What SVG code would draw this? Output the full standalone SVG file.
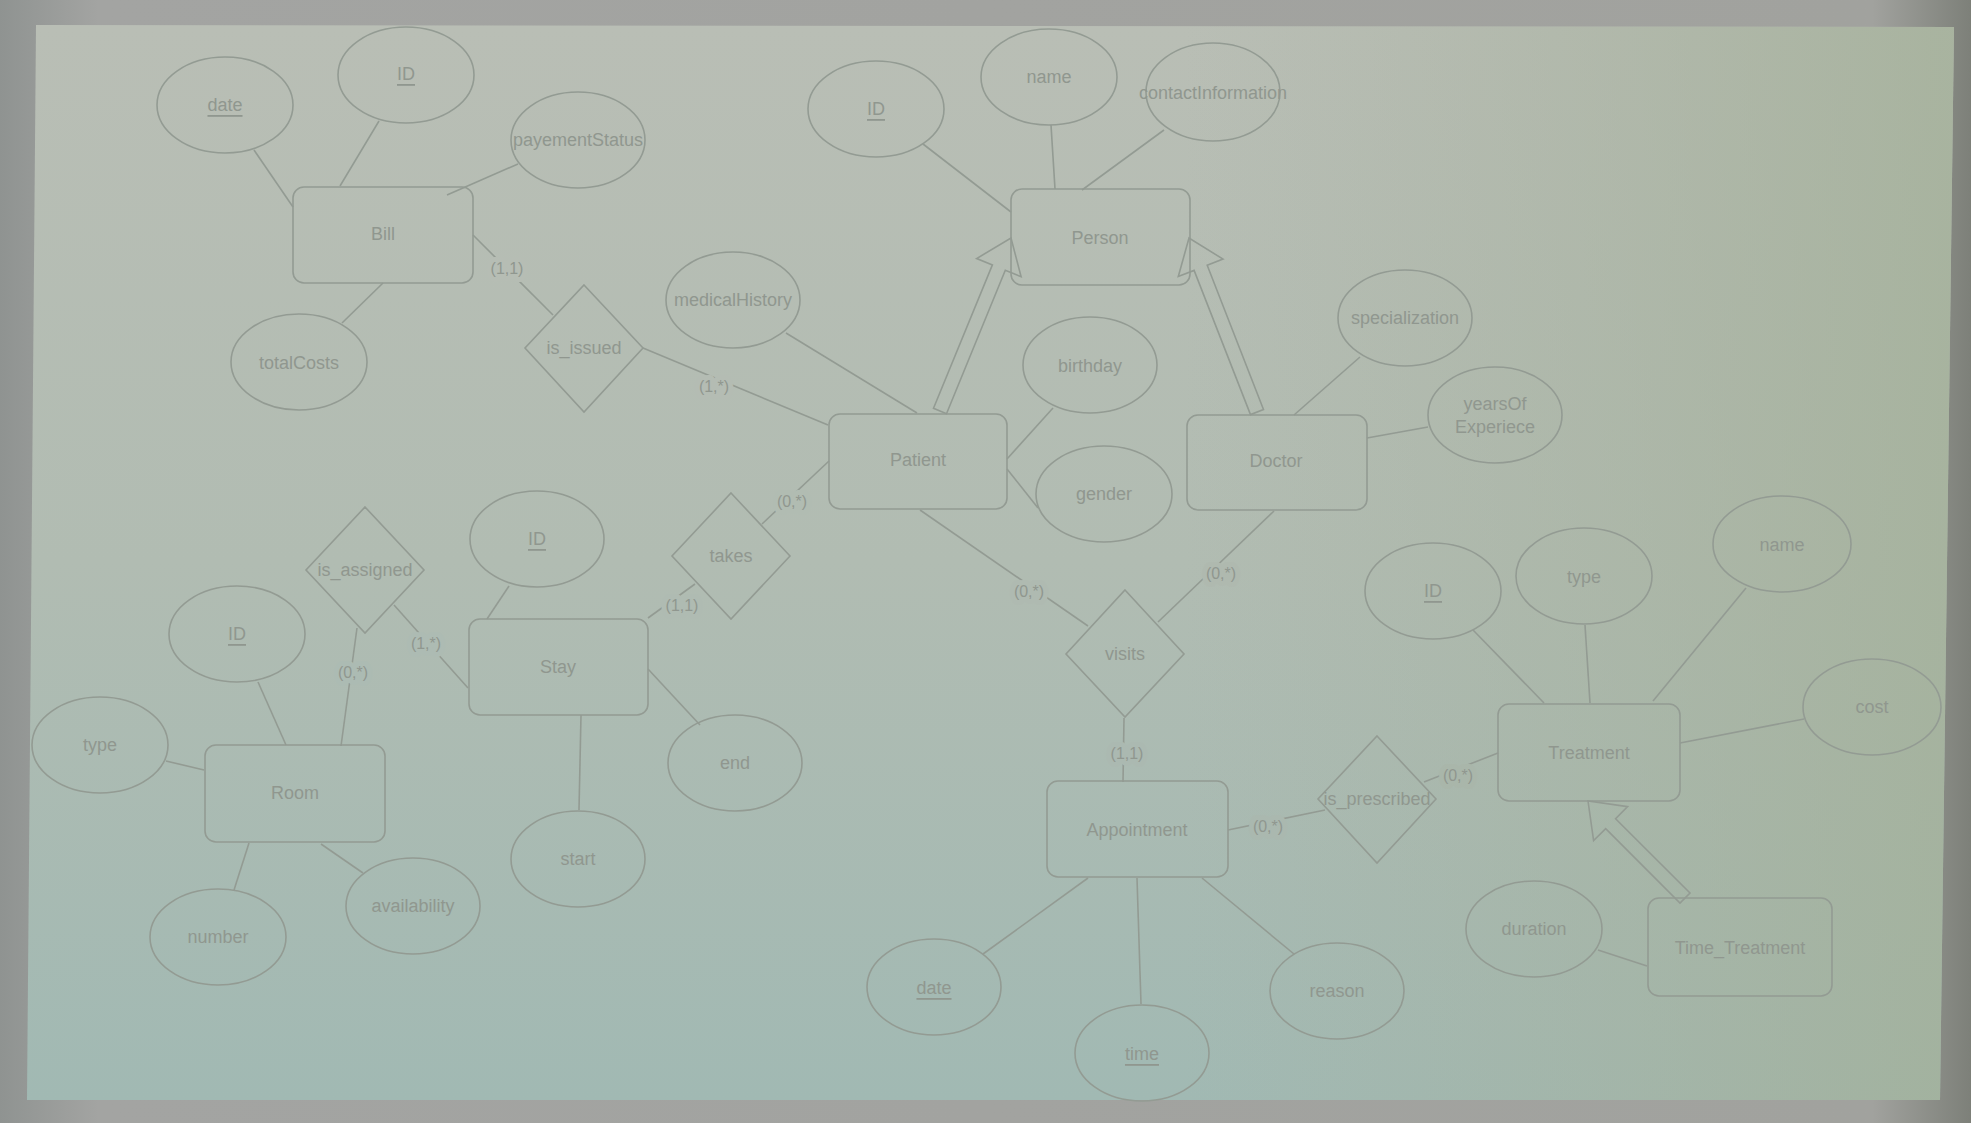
<svg xmlns="http://www.w3.org/2000/svg" width="1971" height="1123" viewBox="0 0 1971 1123">
<defs>
<linearGradient id="frame" x1="0" y1="0" x2="1" y2="0">
<stop offset="0" stop-color="#8f9391"/><stop offset="0.05" stop-color="#a3a4a2"/><stop offset="0.95" stop-color="#a1a29e"/><stop offset="1" stop-color="#7d8079"/>
</linearGradient>
<linearGradient id="scrV" x1="0" y1="0" x2="0" y2="1">
<stop offset="0" stop-color="#b9beb5"/><stop offset="0.5" stop-color="#b1bcb2"/><stop offset="1" stop-color="#a1b9b3"/>
</linearGradient>
<linearGradient id="scrH" x1="0" y1="0" x2="1" y2="0">
<stop offset="0" stop-color="#a8b0a0" stop-opacity="0"/><stop offset="0.6" stop-color="#a8b0a0" stop-opacity="0"/><stop offset="1" stop-color="#a3b098" stop-opacity="0.75"/>
</linearGradient>
<style>
.s{fill:none;stroke:#939b93;stroke-width:1.6}
.l{stroke:#939b93;stroke-width:1.6;fill:none}
.t{font-family:"Liberation Sans",Arial,Helvetica,sans-serif;font-size:18px;fill:#90978f;text-anchor:middle;dominant-baseline:central}
.u{text-decoration:underline}
.c{font-family:"Liberation Sans",Arial,Helvetica,sans-serif;font-size:16px;fill:#90978f;text-anchor:middle;dominant-baseline:central;stroke:#b1bbb2;stroke-width:10;paint-order:stroke;stroke-linejoin:round}
</style>
</defs>
<rect x="0" y="0" width="1971" height="1123" fill="url(#frame)"/>
<polygon points="36,25 1954,27 1940,1100 27,1100" fill="url(#scrV)"/>
<polygon points="36,25 1954,27 1940,1100 27,1100" fill="url(#scrH)"/>

<g id="connectors">
<line class="l" x1="254" y1="150" x2="293" y2="207"/>
<line class="l" x1="379" y1="121" x2="340" y2="186"/>
<line class="l" x1="518" y1="164" x2="447" y2="195"/>
<line class="l" x1="342" y1="323" x2="383" y2="283"/>
<line class="l" x1="473" y1="235" x2="553" y2="315"/>
<line class="l" x1="643" y1="348" x2="828" y2="425"/>
<line class="l" x1="923" y1="144" x2="1011" y2="212"/>
<line class="l" x1="1051" y1="125" x2="1055" y2="189"/>
<line class="l" x1="1164" y1="130" x2="1082" y2="190"/>
<line class="l" x1="786" y1="333" x2="917" y2="413"/>
<line class="l" x1="1053" y1="408" x2="1007" y2="459"/>
<line class="l" x1="1007" y1="469" x2="1038" y2="508"/>
<line class="l" x1="1360" y1="357" x2="1294" y2="415"/>
<line class="l" x1="1428" y1="427" x2="1367" y2="438"/>
<line class="l" x1="920" y1="510" x2="1088" y2="626"/>
<line class="l" x1="1274" y1="511" x2="1158" y2="622"/>
<line class="l" x1="1124" y1="718" x2="1123" y2="782"/>
<line class="l" x1="983" y1="954" x2="1088" y2="878"/>
<line class="l" x1="1141" y1="1004" x2="1137" y2="878"/>
<line class="l" x1="1294" y1="954" x2="1202" y2="878"/>
<line class="l" x1="1228" y1="830" x2="1325" y2="810"/>
<line class="l" x1="1424" y1="782" x2="1498" y2="753"/>
<line class="l" x1="1473" y1="630" x2="1544" y2="703"/>
<line class="l" x1="1585" y1="625" x2="1590" y2="703"/>
<line class="l" x1="1746" y1="588" x2="1653" y2="701"/>
<line class="l" x1="1804" y1="719" x2="1680" y2="743"/>
<line class="l" x1="1598" y1="950" x2="1647" y2="966"/>
<line class="l" x1="509" y1="586" x2="487" y2="619"/>
<line class="l" x1="648" y1="669" x2="700" y2="725"/>
<line class="l" x1="581" y1="715" x2="579" y2="810"/>
<line class="l" x1="648" y1="618" x2="695" y2="584"/>
<line class="l" x1="762" y1="524" x2="829" y2="461"/>
<line class="l" x1="394" y1="605" x2="468" y2="688"/>
<line class="l" x1="357" y1="628" x2="341" y2="746"/>
<line class="l" x1="258" y1="682" x2="286" y2="745"/>
<line class="l" x1="166" y1="761" x2="204" y2="770"/>
<line class="l" x1="234" y1="890" x2="249" y2="843"/>
<line class="l" x1="363" y1="873" x2="321" y2="844"/>
<polygon class="s" points="946.5,413.7 1005.3,270.3 1021.1,276.7 1011,238 976.7,258.5 992.4,264.9 933.5,408.3"/>
<polygon class="s" points="1263.5,409.5 1207.2,265.3 1223,259.1 1189,238 1178.3,276.5 1194.1,270.4 1250.5,414.6"/>
<polygon class="s" points="1690,893 1615.6,818.7 1627.6,806.6 1588,801 1593.6,840.6 1605.7,828.6 1680,903"/>
<text class="c" x="507" y="268" style="stroke:#b6bdb4">(1,1)</text>
<text class="c" x="714" y="386" style="stroke:#b4bcb3">(1,*)</text>
<text class="c" x="792" y="501" style="stroke:#b1bcb2">(0,*)</text>
<text class="c" x="682" y="605" style="stroke:#afbbb2">(1,1)</text>
<text class="c" x="426" y="643" style="stroke:#adbbb3">(1,*)</text>
<text class="c" x="353" y="672" style="stroke:#acbbb3">(0,*)</text>
<text class="c" x="1029" y="591" style="stroke:#afbab1">(0,*)</text>
<text class="c" x="1221" y="573" style="stroke:#afb9af">(0,*)</text>
<text class="c" x="1127" y="753" style="stroke:#abb9b1">(1,1)</text>
<text class="c" x="1268" y="826" style="stroke:#aab8af">(0,*)</text>
<text class="c" x="1458" y="775" style="stroke:#a9b6aa">(0,*)</text>
</g>

<g id="Bill"><rect class="s" x="293" y="187" width="180" height="96" rx="11"/><text class="t" x="383" y="234">Bill</text></g>
<g id="Bill_date"><ellipse class="s" cx="225" cy="105" rx="68" ry="48"/><text class="t u" x="225" y="105">date</text></g>
<g id="Bill_ID"><ellipse class="s" cx="406" cy="75" rx="68" ry="48"/><text class="t u" x="406" y="74">ID</text></g>
<g id="Bill_payementStatus"><ellipse class="s" cx="578" cy="140" rx="67" ry="48"/><text class="t" x="578" y="140">payementStatus</text></g>
<g id="Bill_totalCosts"><ellipse class="s" cx="299" cy="362" rx="68" ry="48"/><text class="t" x="299" y="363">totalCosts</text></g>
<g id="is_issued"><polygon class="s" points="584,285 643,348 584,412 525,348"/><text class="t" x="584" y="348">is_issued</text></g>

<g id="Person"><rect class="s" x="1011" y="189" width="179" height="96" rx="11"/><text class="t" x="1100" y="238">Person</text></g>
<g id="Person_ID"><ellipse class="s" cx="876" cy="109" rx="68" ry="48"/><text class="t u" x="876" y="109">ID</text></g>
<g id="Person_name"><ellipse class="s" cx="1049" cy="77" rx="68" ry="48"/><text class="t" x="1049" y="77">name</text></g>
<g id="Person_contactInformation"><ellipse class="s" cx="1213" cy="92" rx="67" ry="49"/><text class="t" x="1213" y="93">contactInformation</text></g>

<g id="Patient"><rect class="s" x="829" y="414" width="178" height="95" rx="11"/><text class="t" x="918" y="460">Patient</text></g>
<g id="Patient_medicalHistory"><ellipse class="s" cx="733" cy="300" rx="67" ry="48"/><text class="t" x="733" y="300">medicalHistory</text></g>
<g id="Patient_birthday"><ellipse class="s" cx="1090" cy="365" rx="67" ry="48"/><text class="t" x="1090" y="366">birthday</text></g>
<g id="Patient_gender"><ellipse class="s" cx="1104" cy="494" rx="68" ry="48"/><text class="t" x="1104" y="494">gender</text></g>

<g id="Doctor"><rect class="s" x="1187" y="415" width="180" height="95" rx="11"/><text class="t" x="1276" y="461">Doctor</text></g>
<g id="Doctor_specialization"><ellipse class="s" cx="1405" cy="318" rx="67" ry="48"/><text class="t" x="1405" y="318">specialization</text></g>
<g id="Doctor_yearsOfExperiece"><ellipse class="s" cx="1495" cy="415" rx="67" ry="48"/><text class="t" x="1495" y="404">yearsOf</text><text class="t" x="1495" y="427">Experiece</text></g>

<g id="visits"><polygon class="s" points="1125,590 1184,654 1125,717 1066,654"/><text class="t" x="1125" y="654">visits</text></g>
<g id="Appointment"><rect class="s" x="1047" y="781" width="181" height="96" rx="11"/><text class="t" x="1137" y="830">Appointment</text></g>
<g id="Appointment_date"><ellipse class="s" cx="934" cy="987" rx="67" ry="48"/><text class="t u" x="934" y="988">date</text></g>
<g id="Appointment_time"><ellipse class="s" cx="1142" cy="1053" rx="67" ry="48"/><text class="t u" x="1142" y="1054">time</text></g>
<g id="Appointment_reason"><ellipse class="s" cx="1337" cy="991" rx="67" ry="48"/><text class="t" x="1337" y="991">reason</text></g>

<g id="is_prescribed"><polygon class="s" points="1377,736 1436,799 1377,863 1318,799"/><text class="t" x="1377" y="799">is_prescribed</text></g>
<g id="Treatment"><rect class="s" x="1498" y="704" width="182" height="97" rx="11"/><text class="t" x="1589" y="753">Treatment</text></g>
<g id="Treatment_ID"><ellipse class="s" cx="1433" cy="591" rx="68" ry="48"/><text class="t u" x="1433" y="591">ID</text></g>
<g id="Treatment_type"><ellipse class="s" cx="1584" cy="576" rx="68" ry="48"/><text class="t" x="1584" y="577">type</text></g>
<g id="Treatment_name"><ellipse class="s" cx="1782" cy="544" rx="69" ry="48"/><text class="t" x="1782" y="545">name</text></g>
<g id="Treatment_cost"><ellipse class="s" cx="1872" cy="707" rx="69" ry="48"/><text class="t" x="1872" y="707">cost</text></g>
<g id="Time_Treatment"><rect class="s" x="1648" y="898" width="184" height="98" rx="11"/><text class="t" x="1740" y="948">Time_Treatment</text></g>
<g id="Time_Treatment_duration"><ellipse class="s" cx="1534" cy="929" rx="68" ry="48"/><text class="t" x="1534" y="929">duration</text></g>

<g id="Stay"><rect class="s" x="469" y="619" width="179" height="96" rx="11"/><text class="t" x="558" y="667">Stay</text></g>
<g id="Stay_ID"><ellipse class="s" cx="537" cy="539" rx="67" ry="48"/><text class="t u" x="537" y="539">ID</text></g>
<g id="Stay_end"><ellipse class="s" cx="735" cy="763" rx="67" ry="48"/><text class="t" x="735" y="763">end</text></g>
<g id="Stay_start"><ellipse class="s" cx="578" cy="859" rx="67" ry="48"/><text class="t" x="578" y="859">start</text></g>
<g id="takes"><polygon class="s" points="731,493 790,556 731,619 672,556"/><text class="t" x="731" y="556">takes</text></g>
<g id="is_assigned"><polygon class="s" points="365,507 424,570 365,633 306,570"/><text class="t" x="365" y="570">is_assigned</text></g>

<g id="Room"><rect class="s" x="205" y="745" width="180" height="97" rx="11"/><text class="t" x="295" y="793">Room</text></g>
<g id="Room_ID"><ellipse class="s" cx="237" cy="634" rx="68" ry="48"/><text class="t u" x="237" y="634">ID</text></g>
<g id="Room_type"><ellipse class="s" cx="100" cy="745" rx="68" ry="48"/><text class="t" x="100" y="745">type</text></g>
<g id="Room_number"><ellipse class="s" cx="218" cy="937" rx="68" ry="48"/><text class="t" x="218" y="937">number</text></g>
<g id="Room_availability"><ellipse class="s" cx="413" cy="906" rx="67" ry="48"/><text class="t" x="413" y="906">availability</text></g>
</svg>
